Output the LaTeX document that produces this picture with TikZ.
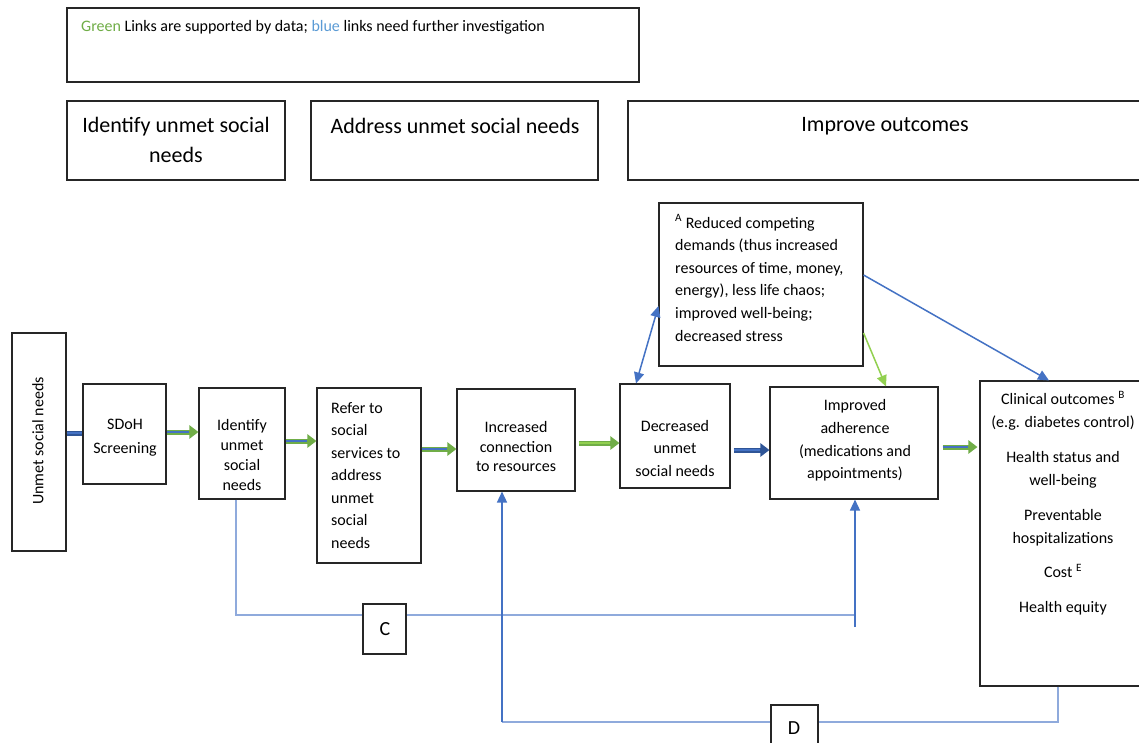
\documentclass[tikz,border=0pt]{standalone}
\usepackage{fontspec}
\setmainfont{Carlito}
\usetikzlibrary{arrows.meta,fit,calc}
\definecolor{lnkblue}{HTML}{4472C4}
\definecolor{lnkblueL}{HTML}{8FAADC}
\definecolor{lnkgreen}{HTML}{70AD47}
\definecolor{lnkgreenL}{HTML}{92D050}
\definecolor{txtblue}{HTML}{5B9BD5}
\definecolor{darkblue}{HTML}{2F5597}
\begin{document}
\begin{tikzpicture}[x=1pt,y=-1pt,
  box/.style={draw=black!85, line width=1.1pt, fill=white, inner sep=0pt},
  txt/.style={font=\fontsize{16}{23}\selectfont, align=center, inner sep=0pt},
  head/.style={font=\fontsize{22}{30}\selectfont, align=center, inner sep=0pt},
  thinarrow/.style={draw=lnkblue, line width=1.5pt, -{Triangle[length=11pt,width=10pt]}},
  lightline/.style={draw=lnkblueL, line width=1.4pt},
  greenthin/.style={draw=lnkgreenL, line width=1.5pt, -{Triangle[length=11pt,width=10pt]}},
  outerg/.style={draw=lnkgreen, line width=5pt, -{Triangle[length=9pt,width=13pt]}},
  innerb/.style={draw=lnkblue, line width=1.8pt, shorten >=9pt},
  innerg/.style={draw=lnkgreenL, line width=2.2pt, shorten >=9pt},
  outerdb/.style={draw=darkblue, line width=5pt, -{Triangle[length=9pt,width=13pt]}},
]
\useasboundingbox (0,0) rectangle (1139,742);
\fill[white] (0,0) rectangle (1139,742);

% ---------- top boxes ----------
\node[box, fit={(67,8) (639,82)}] (legend) {};
\node[inner sep=0pt, anchor=west, font=\fontsize{16}{18}\selectfont] (legendtxt) at (81,27)
  {\textcolor{lnkgreen}{Green} Links are supported by data; \textcolor{txtblue}{blue} links need further investigation};

\node[box, fit={(67,101) (285,180)}] (h1) {};
\node[head] (h1t) at (176,139.5) {Identify unmet social\\needs};
\node[box, fit={(311,101) (598,180)}] (h2) {};
\node[head] (h2t) at (455,126) {Address unmet social needs};
\node[box, fit={(628,101) (1150,180)}] (h3) {};
\node[head] (h3t) at (885,126) {Improve outcomes};

% ---------- main row ----------
\node[box, fit={(12,333) (66,551)}] (unmet) {};
\node[txt, rotate=90] (unmett) at (38,441) {Unmet social needs};

\node[box, fit={(83,384) (166,484)}] (sdoh) {};
\node[txt, font=\fontsize{16}{24}\selectfont] (sdoht) at (125,438) {SDoH\\Screening};

\node[box, fit={(199,388) (285,499)}] (ident) {};
\node[txt, font=\fontsize{16}{20}\selectfont] (identt) at (242,455) {Identify\\unmet\\social\\needs};

\node[box, fit={(317,388) (421,563)}] (refer) {};
\node[txt, align=left, anchor=west, font=\fontsize{16}{22.5}\selectfont] (refert) at (331,475.5)
  {Refer to\\social\\services to\\address\\unmet\\social\\needs};

\node[box, fit={(457,389) (575,491)}] (incr) {};
\node[txt, font=\fontsize{16}{19.5}\selectfont] (incrt) at (516,446.5) {Increased\\connection\\to resources};

\node[box, fit={(620,384) (730,488)}] (decr) {};
\node[txt, font=\fontsize{16}{22.5}\selectfont] (decrt) at (675,448) {Decreased\\unmet\\social needs};

\node[box, fit={(770,387) (938,499)}] (impr) {};
\node[txt, font=\fontsize{16}{22.7}\selectfont] (imprt) at (855,440.5) {Improved\\adherence\\(medications and\\appointments)};

\node[box, fit={(980,381) (1150,686)}] (out) {};
\node[txt, font=\fontsize{16}{23}\selectfont] (outt) at (1063,503)
  {Clinical outcomes \textsuperscript{B}\\(e.g. diabetes control)\\[12pt]
   Health status and\\well-being\\[12pt]
   Preventable\\hospitalizations\\[11pt]
   Cost \textsuperscript{E}\\[12pt]
   Health equity};

\node[box, fit={(659,203) (863,366)}] (abox) {};
\node[txt, align=left, anchor=west, font=\fontsize{16}{22.6}\selectfont] (aboxt) at (675,278)
  {\textsuperscript{A} Reduced competing\\demands (thus increased\\resources of time, money,\\energy), less life chaos;\\improved well-being;\\decreased stress};

% ---------- main arrows ----------
\draw[draw=darkblue, line width=5pt] (unmet.east |- 0,433) -- (sdoh.west |- 0,433);
\draw[draw=lnkblue, line width=2.2pt] (unmet.east |- 0,433) -- (sdoh.west |- 0,433);

\draw[outerg] (sdoh.east |- 0,432) -- (ident.west |- 0,432);
\draw[innerb] (sdoh.east |- 0,432) -- (ident.west |- 0,432);

\draw[outerg] (ident.east |- 0,441) -- (refer.west |- 0,441);
\draw[innerb] (ident.east |- 0,441) -- (refer.west |- 0,441);

\draw[outerg] (refer.east |- 0,449) -- (incr.west |- 0,449);
\draw[innerb] (refer.east |- 0,449) -- (incr.west |- 0,449);

\draw[outerg, shorten <=3pt] (incr.east |- 0,443) -- (decr.west |- 0,443);
\draw[innerg, shorten <=3pt] (incr.east |- 0,443) -- (decr.west |- 0,443);

\draw[outerdb, shorten <=3pt] (decr.east |- 0,450) -- (impr.west |- 0,450);
\draw[draw=lnkblue, line width=2.2pt, shorten <=3pt, shorten >=9pt] (decr.east |- 0,450) -- (impr.west |- 0,450);

\draw[outerg, shorten <=4pt, shorten >=2pt] (impr.east |- 0,447) -- (out.west |- 0,447);
\draw[innerb, shorten <=4pt, shorten >=11pt] (impr.east |- 0,447) -- (out.west |- 0,447);

% ---------- thin links ----------
\draw[thinarrow, {Triangle[length=11pt,width=10pt]}-{Triangle[length=11pt,width=10pt]}]
  (decr.north -| 636,0) -- (abox.west |- 0,306);
\draw[thinarrow] (abox.east |- 0,275) -- (out.north -| 1049,0);
\draw[greenthin] (abox.east |- 0,333) -- (impr.north -| 886,0);

% C loop
\coordinate (c1) at (236,615);
\coordinate (c2) at (855,615);
\coordinate (c3) at (855,627);
\draw[lightline] (ident.south -| c1) -- (c1) -- (c2);
\draw[thinarrow] (c3) -- (impr.south -| c3);
\node[box, fit={(363,604) (406,654)}] (cbox) {};
\node[inner sep=0pt, font=\fontsize{20}{24}\selectfont] (ct) at (385,629) {C};

% D loop
\coordinate (d1) at (1058,722);
\coordinate (d2) at (502,722);
\draw[lightline] (out.south -| d1) -- (d1) -- (d2);
\draw[thinarrow] (d2) -- (incr.south -| d2);
\node[box, fit={(771,705) (818,752)}] (dbox) {};
\node[inner sep=0pt, font=\fontsize{20}{24}\selectfont] (dt) at (794,728) {D};
\end{tikzpicture}
\end{document}
